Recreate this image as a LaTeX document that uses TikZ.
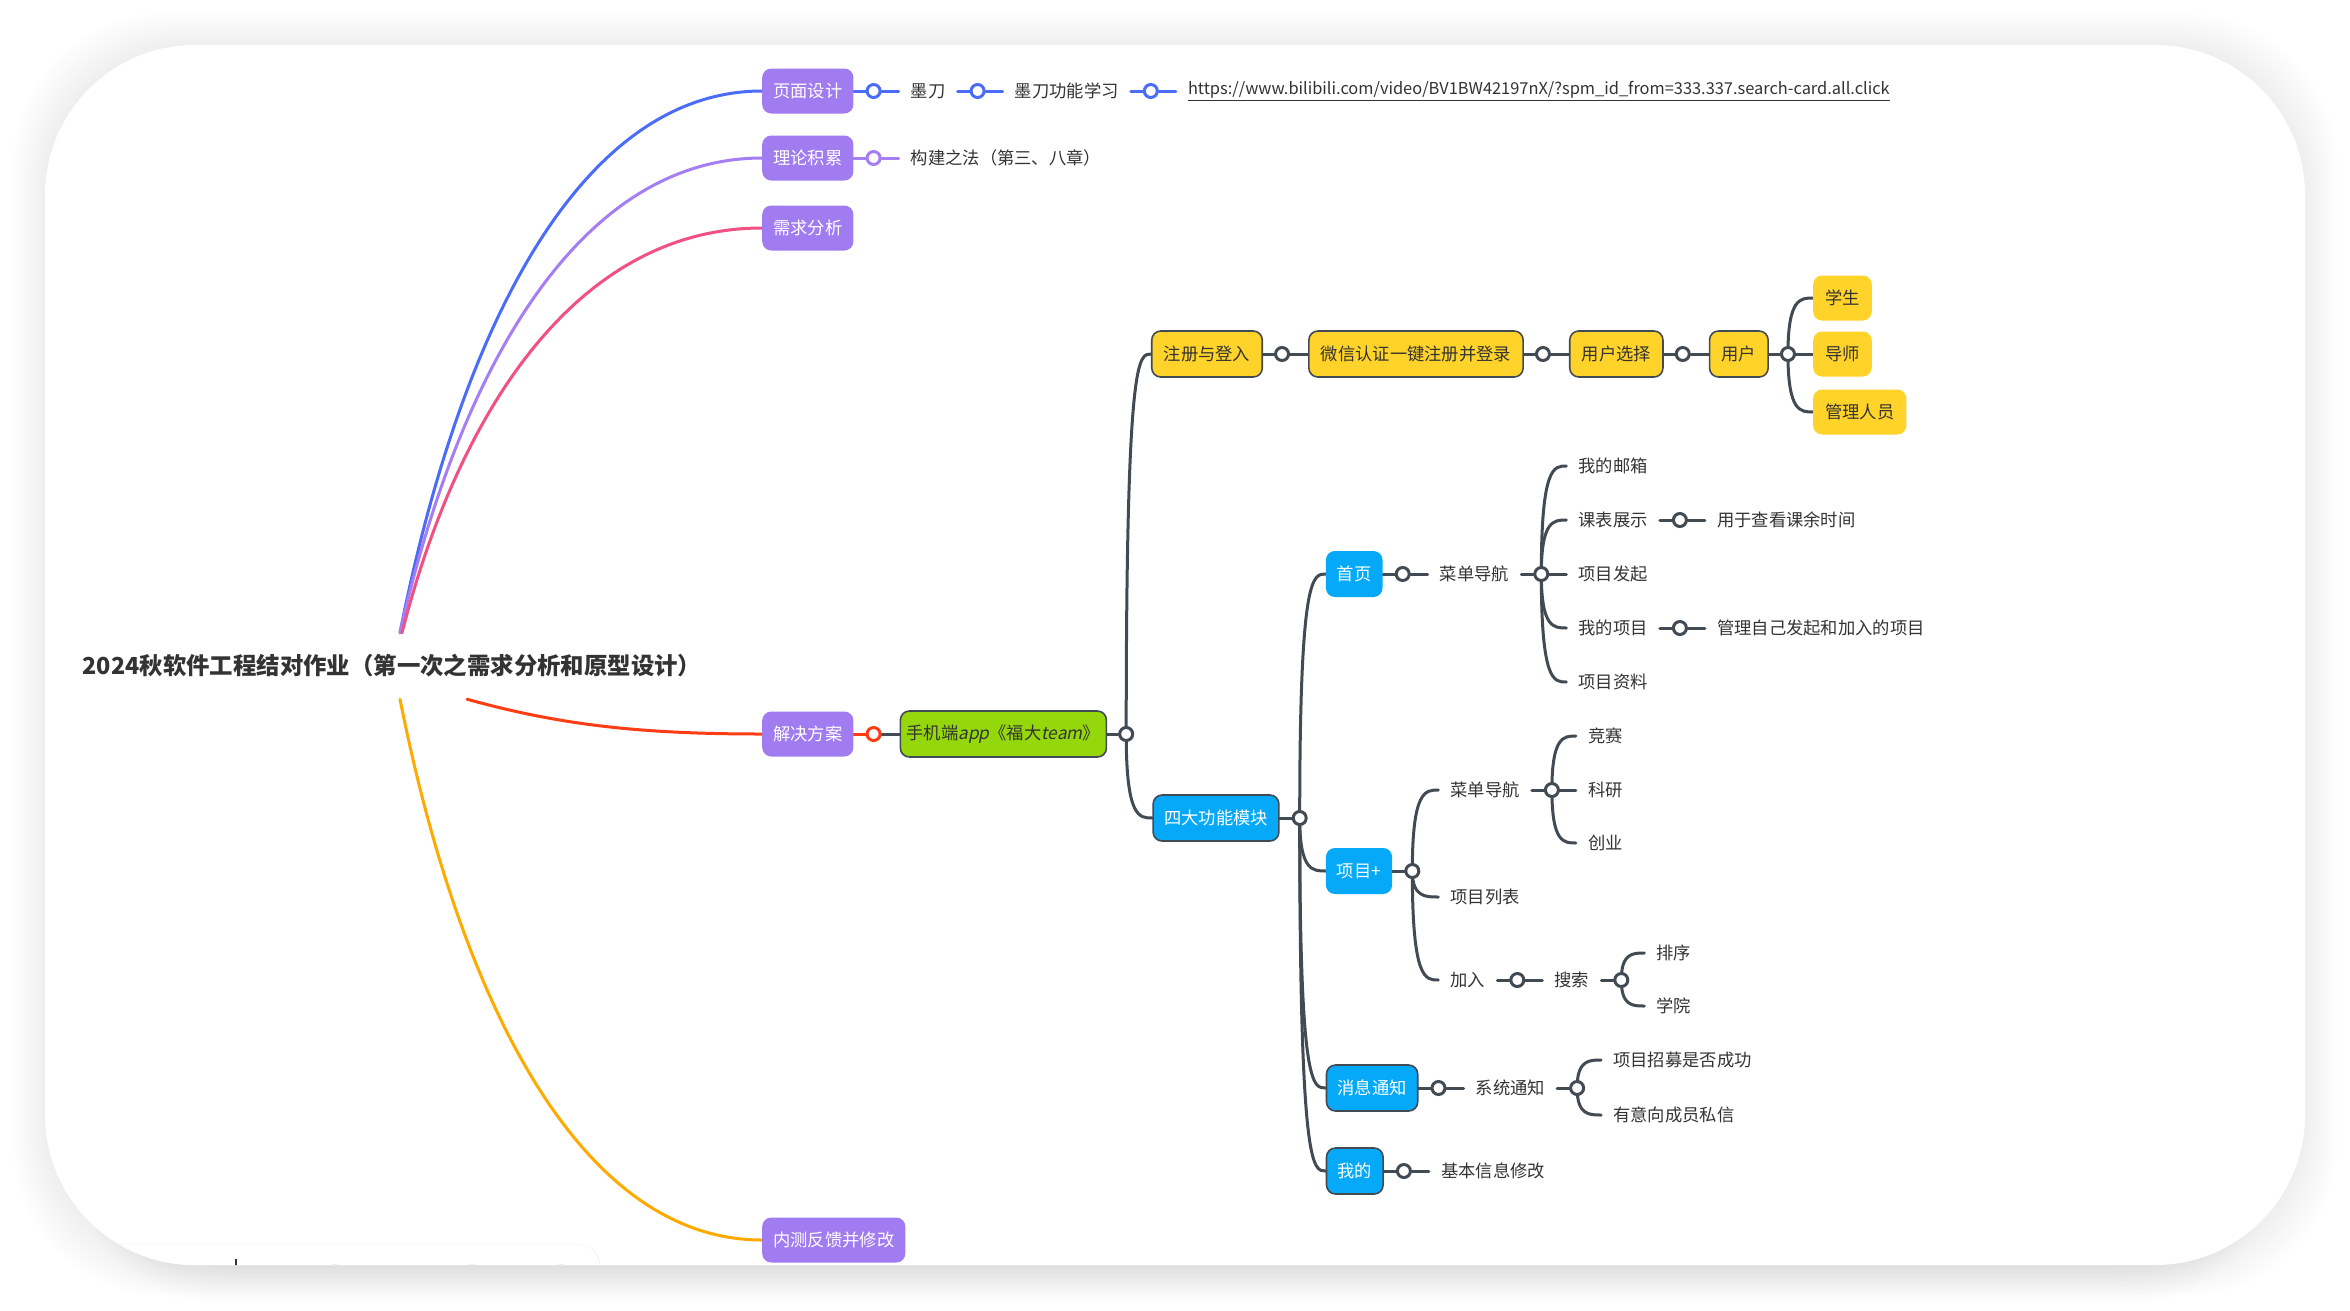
\documentclass[tikz,border=0pt]{standalone}
\usepackage{fontspec}
\setmainfont{Noto Sans CJK SC}[AutoFakeSlant=0.2]
\usepackage{tikz}
\usetikzlibrary{positioning,calc}

\definecolor{ink}{HTML}{333333}
\definecolor{edge}{HTML}{424B53}
\definecolor{purp}{HTML}{A17CF0}
\definecolor{blu}{HTML}{4A6CF7}
\definecolor{lav}{HTML}{A57EF3}
\definecolor{rose}{HTML}{F24F82}
\definecolor{rust}{HTML}{FF3D14}
\definecolor{amber}{HTML}{FFAA00}
\definecolor{sun}{HTML}{FFD32A}
\definecolor{sky}{HTML}{05A9F8}
\definecolor{lime}{HTML}{94D80C}

\pgfdeclarelayer{card}
\pgfdeclarelayer{wires}
\pgfsetlayers{card,wires,main}

\begin{document}
\begin{tikzpicture}[
  x=1pt, y=1pt,
  every node/.style={font=\fontsize{17.3}{20}\selectfont, text=ink},
  topic/.style={fill=purp, text=white, rounded corners=9pt, minimum height=45pt,
    inner xsep=11pt, anchor=west},
  ybox/.style={fill=sun, draw=edge, line width=1.6pt, rounded corners=9pt,
    minimum height=46pt, inner xsep=12pt},
  yleaf/.style={fill=sun, rounded corners=9pt, minimum height=45pt, inner xsep=12pt},
  bbox/.style={fill=sky, text=white, draw=edge, line width=1.6pt, rounded corners=9pt,
    minimum height=46pt, inner xsep=11pt},
  bleaf/.style={fill=sky, text=white, rounded corners=9pt, minimum height=46pt, inner xsep=11pt},
  gbox/.style={fill=lime, draw=edge, line width=1.6pt, rounded corners=9pt,
    minimum height=46pt, minimum width=206pt, inner xsep=6pt},
  leaf/.style={inner xsep=12pt, inner ysep=4pt},
  knob/.style={circle, draw=#1, fill=white, line width=3pt, minimum size=13pt, inner sep=0pt},
  knob/.default=edge,
  link/.style={line width=3pt, draw=#1, line cap=round},
  link/.default=edge,
  branch/.style={to path={.. controls (\tikztostart |- \tikztotarget)
    and ($(\tikztostart |- \tikztotarget)!0.5!(\tikztotarget)$) .. (\tikztotarget)}}
]
\useasboundingbox (0,0) rectangle (2350,-1310);

% card with soft shadow
\begin{pgfonlayer}{card}
\fill[white] (0,0) rectangle (2350,-1310);
\foreach \i in {1,...,16}
  \fill[black, opacity=0.004, rounded corners=150pt] (45-2*\i,-45+2*\i) rectangle (2305+2*\i,-1265-2*\i);
\foreach \i in {1,...,16}
  \fill[black, opacity=0.004, rounded corners=150pt] (90-\i,-90) rectangle (2260+\i,-1265-2.5*\i);
\fill[white, rounded corners=150pt] (45,-45) rectangle (2305,-1265);
\begin{scope}
  \clip[rounded corners=150pt] (45,-45) rectangle (2305,-1265);
  \draw[black!7, fill=white, rounded corners=22pt] (20,-1244) rectangle (600,-1330);
  \fill[black!8] (335,-1272) circle (8) (472,-1272) circle (8) (561,-1272) circle (8);
  \draw[ink, line width=2pt] (236,-1259) -- (236,-1266);
\end{scope}
\end{pgfonlayer}

% root and first level
\node[font=\fontsize{23.4}{28}\selectfont\bfseries, minimum height=66pt] (root) at (392,-666)
  {2024秋软件工程结对作业（第一次之需求分析和原型设计）};
\node[topic] (design) at (762,-91) {页面设计};
\node[topic] (theory) at (762,-158) {理论积累};
\node[topic] (needs) at (762,-228) {需求分析};
\node[topic] (plan) at (762,-734) {解决方案};
\node[topic] (beta) at (762,-1240) {内测反馈并修改};

% 页面设计
\node[knob=blu] (kd1) at ([xshift=20pt]design.east) {};
\node[leaf, right=17pt of kd1] (modao) {墨刀};
\node[knob=blu] (kd2) at ([xshift=20pt]modao.east) {};
\node[leaf, right=17pt of kd2] (learn) {墨刀功能学习};
\node[knob=blu] (kd3) at ([xshift=20pt]learn.east) {};
\node[leaf, right=17pt of kd3, font=\fontsize{16.4}{20}\selectfont] (video)
  {\underline{https://www.bilibili.com/video/BV1BW42197nX/?spm\_id\_from=333.337.search-card.all.click}};

% 理论积累
\node[knob=lav] (kt) at ([xshift=20pt]theory.east) {};
\node[leaf, right=17pt of kt] (book) {构建之法（第三、八章）};

% 解决方案
\node[knob=rust] (kp) at ([xshift=20pt]plan.east) {};
\node[gbox, right=18pt of kp] (app) {手机端\textit{app}《福大\textit{team}》};
\node[knob] (ka) at ([xshift=19pt]app.east) {};
\node[ybox] (login) at (1207,-354) {注册与登入};
\node[bbox] (modules) at (1216,-818) {四大功能模块};

% 注册与登入
\node[knob] (kl1) at ([xshift=19pt]login.east) {};
\node[ybox, right=18pt of kl1, minimum width=211pt] (wechat) {微信认证一键注册并登录};
\node[knob] (kl2) at ([xshift=19pt]wechat.east) {};
\node[ybox, right=18pt of kl2] (choose) {用户选择};
\node[knob] (kl3) at ([xshift=19pt]choose.east) {};
\node[ybox, right=18pt of kl3] (user) {用户};
\node[knob] (kl4) at ([xshift=19pt]user.east) {};
\foreach \n/\t/\dy in {student/学生/56, tutor/导师/0, admin/管理人员/-58}
  \node[yleaf, anchor=west] (\n) at ([shift={(25pt,\dy pt)}]kl4) {\t};

% 四大功能模块
\node[knob] (km) at ([xshift=20pt]modules.east) {};
\node[bleaf, anchor=west] (home) at ([shift={(26pt,244pt)}]km) {首页};
\node[bleaf, anchor=west] (proj) at ([shift={(26pt,-53pt)}]km) {项目+};
\node[bbox, anchor=west] (notify) at ([shift={(26pt,-270pt)}]km) {消息通知};
\node[bbox, anchor=west] (mine) at ([shift={(26pt,-353pt)}]km) {我的};

% 首页
\node[knob] (kh) at ([xshift=20pt]home.east) {};
\node[leaf, right=17pt of kh] (hmenu) {菜单导航};
\node[knob] (khm) at ([xshift=20pt]hmenu.east) {};
\foreach \n/\t/\dy in {mail/我的邮箱/108, sched/课表展示/54, launch/项目发起/0,
    myproj/我的项目/-54, files/项目资料/-108}
  \node[leaf, anchor=west] (\n) at ([shift={(25pt,\dy pt)}]khm) {\t};
\node[knob] (ksc) at ([xshift=20pt]sched.east) {};
\node[leaf, right=17pt of ksc] (spare) {用于查看课余时间};
\node[knob] (kmy) at ([xshift=20pt]myproj.east) {};
\node[leaf, right=17pt of kmy] (manage) {管理自己发起和加入的项目};

% 项目+
\node[knob] (kpr) at ([xshift=20pt]proj.east) {};
\foreach \n/\t/\dy in {pmenu/菜单导航/81, plist/项目列表/-26, join/加入/-109}
  \node[leaf, anchor=west] (\n) at ([shift={(26pt,\dy pt)}]kpr) {\t};
\node[knob] (kpm) at ([xshift=20pt]pmenu.east) {};
\foreach \n/\t/\dy in {contest/竞赛/54, research/科研/0, startup/创业/-53}
  \node[leaf, anchor=west] (\n) at ([shift={(24pt,\dy pt)}]kpm) {\t};
\node[knob] (kj) at ([xshift=20pt]join.east) {};
\node[leaf, right=17pt of kj] (search) {搜索};
\node[knob] (kse) at ([xshift=20pt]search.east) {};
\foreach \n/\t/\dy in {sort/排序/27, college/学院/-26}
  \node[leaf, anchor=west] (\n) at ([shift={(23pt,\dy pt)}]kse) {\t};

% 消息通知
\node[knob] (kn) at ([xshift=20pt]notify.east) {};
\node[leaf, right=17pt of kn] (sysmsg) {系统通知};
\node[knob] (ksy) at ([xshift=20pt]sysmsg.east) {};
\foreach \n/\t/\dy in {recruit/项目招募是否成功/28, letter/有意向成员私信/-27}
  \node[leaf, anchor=west] (\n) at ([shift={(24pt,\dy pt)}]ksy) {\t};

% 我的
\node[knob] (kmi) at ([xshift=20pt]mine.east) {};
\node[leaf, right=17pt of kmi] (profile) {基本信息修改};

% connectors
\begin{pgfonlayer}{wires}
\draw[link=blu] ([xshift=8pt]root.north) .. controls (460,-329) and (580,-91) .. (design.west);
\draw[link=lav] ([xshift=8pt]root.north) .. controls (460,-367) and (580,-158) .. (theory.west);
\draw[link=rose] ([xshift=10pt]root.north) .. controls (460,-406) and (580,-228) .. (needs.west);
\draw[link=rust] ([xshift=75pt]root.south) .. controls (560,-725) and (640,-734) .. (plan.west);
\draw[link=amber] ([xshift=8pt]root.south) .. controls (460,-1001) and (580,-1240) .. (beta.west);

\draw[link=blu] (design) -- (kd1) -- (modao) -- (kd2) -- (learn) -- (kd3) -- (video);
\draw[link=lav] (theory) -- (kt) -- (book);
\draw[link=rust] (plan) -- (kp);
\draw[link] (kp) -- (app) -- (ka);
\draw[link] (ka.center) to[branch] (login.west);
\draw[link] (ka.center) to[branch] (modules.west);

\draw[link] (login) -- (kl1) -- (wechat) -- (kl2) -- (choose) -- (kl3) -- (user) -- (kl4);
\foreach \n in {student, tutor, admin}
  \draw[link] (kl4.center) to[branch] (\n.west);

\draw[link] (modules) -- (km);
\foreach \n in {home, proj, notify, mine}
  \draw[link] (km.center) to[branch] (\n.west);

\draw[link] (home) -- (kh) -- (hmenu) -- (khm);
\foreach \n in {mail, sched, launch, myproj, files}
  \draw[link] (khm.center) to[branch] (\n.west);
\draw[link] (sched) -- (ksc) -- (spare);
\draw[link] (myproj) -- (kmy) -- (manage);

\draw[link] (proj) -- (kpr);
\foreach \n in {pmenu, plist, join}
  \draw[link] (kpr.center) to[branch] (\n.west);
\draw[link] (pmenu) -- (kpm);
\foreach \n in {contest, research, startup}
  \draw[link] (kpm.center) to[branch] (\n.west);
\draw[link] (join) -- (kj) -- (search) -- (kse);
\foreach \n in {sort, college}
  \draw[link] (kse.center) to[branch] (\n.west);

\draw[link] (notify) -- (kn) -- (sysmsg) -- (ksy);
\foreach \n in {recruit, letter}
  \draw[link] (ksy.center) to[branch] (\n.west);
\draw[link] (mine) -- (kmi) -- (profile);
\end{pgfonlayer}
\end{tikzpicture}
\end{document}
